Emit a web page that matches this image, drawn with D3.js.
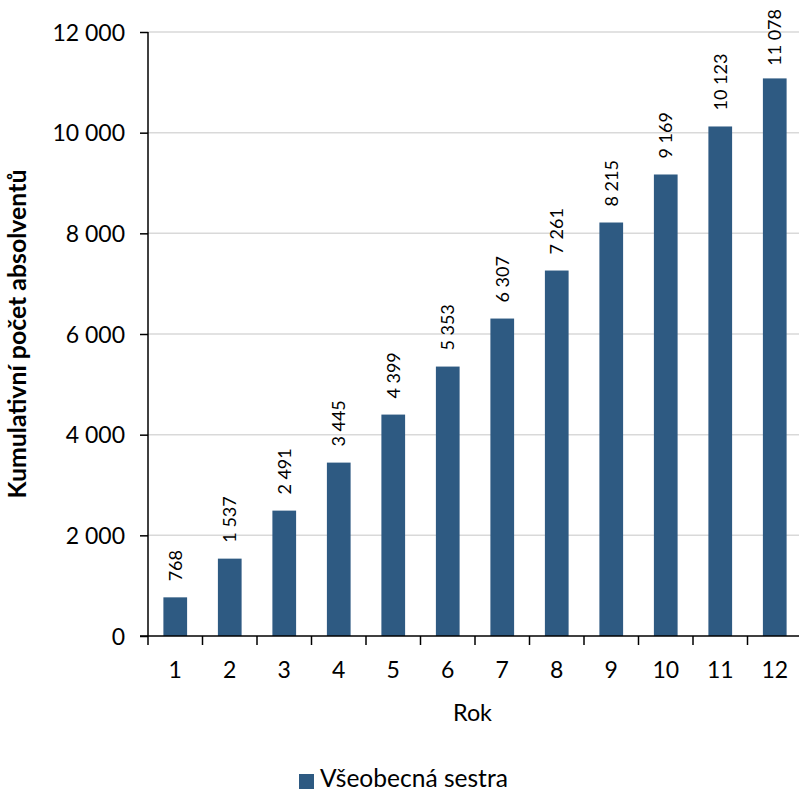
<!DOCTYPE html>
<html><head><meta charset="utf-8">
<script src="https://cdn.jsdelivr.net/npm/d3@7"></script>
<style>body{margin:0;background:#fff}svg{display:block}text{font-family:Lato,"Open Sans",sans-serif;fill:#000}</style>
</head><body>
<svg id="c" width="799" height="792"></svg>
<script>
const categories = ["1","2","3","4","5","6","7","8","9","10","11","12"];
const values = [768,1537,2491,3445,4399,5353,6307,7261,8215,9169,10123,11078];
const yTicks = [0,2000,4000,6000,8000,10000,12000];
const seriesName = "Všeobecná sestra";
const xTitle = "Rok";
const yTitle = "Kumulativní počet absolventů";

const svg = d3.select("#c");
const L = 148, R = 802, T = 32, B = 636;
const barColor = "#2e5a82";
const fmt = v => d3.format(",")(v).replace(/,/g, " ");

const x = d3.scaleBand().domain(categories).range([L, R]).paddingInner(0.565).paddingOuter(0.2825);
const y = d3.scaleLinear().domain([0, 12000]).range([B, T]);

// gridlines
svg.append("g").selectAll("line").data(yTicks.filter(d => d > 0)).join("line")
  .attr("x1", L).attr("x2", 799).attr("y1", d => y(d)).attr("y2", d => y(d))
  .attr("stroke", "#d9d9d9").attr("stroke-width", 1.5);

// bars
svg.append("g").selectAll("rect").data(values).join("rect")
  .attr("x", (d, i) => x(categories[i])).attr("width", x.bandwidth())
  .attr("y", d => y(d)).attr("height", d => B - y(d))
  .attr("fill", barColor);

// y axis
const ya = svg.append("g").attr("transform", `translate(${L},0)`)
  .call(d3.axisLeft(y).tickValues(yTicks).tickFormat(fmt).tickSize(8).tickPadding(15));
ya.select(".domain").attr("stroke", "#000").attr("stroke-width", 1.5).attr("d", `M0,${T}V${B}`);
ya.selectAll(".tick line").attr("stroke", "#000").attr("stroke-width", 1.5);
ya.selectAll(".tick text").attr("font-size", 23).attr("font-family", "Lato").attr("fill", "#000").attr("dy", "0.36em");

// x axis
const xTickPos = categories.map((c, i) => L + i * x.step());
xTickPos.push(R);
const xa = svg.append("g");
xa.append("line").attr("x1", L - 8).attr("x2", 799).attr("y1", B).attr("y2", B).attr("stroke", "#000").attr("stroke-width", 1.5);
xa.selectAll("line.t").data(xTickPos).join("line").attr("class", "t")
  .attr("x1", d => d).attr("x2", d => d).attr("y1", B).attr("y2", B + 9)
  .attr("stroke", "#000").attr("stroke-width", 1.5);
xa.selectAll("text").data(categories).join("text")
  .attr("x", d => x(d) + x.bandwidth() / 2).attr("y", 678)
  .attr("text-anchor", "middle").attr("font-size", 23).text(d => d);

// value labels
svg.append("g").selectAll("text").data(values).join("text")
  .attr("dy", "0.36em").attr("font-size", 18).attr("text-anchor", "start")
  .text(fmt)
  .each(function (d, i) {
    const w = this.getComputedTextLength();
    const cx = x(categories[i]) + x.bandwidth() / 2;
    let base = y(d) - 16;
    if (base - w < 9) base = 9 + w;
    d3.select(this).attr("transform", `translate(${cx},${base}) rotate(-90)`);
  });

function fit(sel, target) {
  const w = sel.node().getComputedTextLength();
  const fs = parseFloat(sel.attr("font-size"));
  sel.attr("font-size", fs * target / w);
}

// axis titles
const xt = svg.append("text").attr("x", (L + 799) / 2 - 1).attr("y", 721).attr("text-anchor", "middle")
  .attr("font-size", 22).text(xTitle);
fit(xt, 39);
const yt = svg.append("text").attr("transform", `translate(26,${(T + B) / 2}) rotate(-90)`)
  .attr("text-anchor", "middle").attr("font-size", 20).attr("font-weight", "bold").text(yTitle);
fit(yt, 329);

// legend
const lg = svg.append("g");
lg.append("rect").attr("x", 299).attr("y", 774).attr("width", 15).attr("height", 15).attr("fill", barColor);
const lt = lg.append("text").attr("x", 320).attr("y", 787).attr("font-size", 22).text(seriesName);
fit(lt, 188);
</script>
</body></html>
